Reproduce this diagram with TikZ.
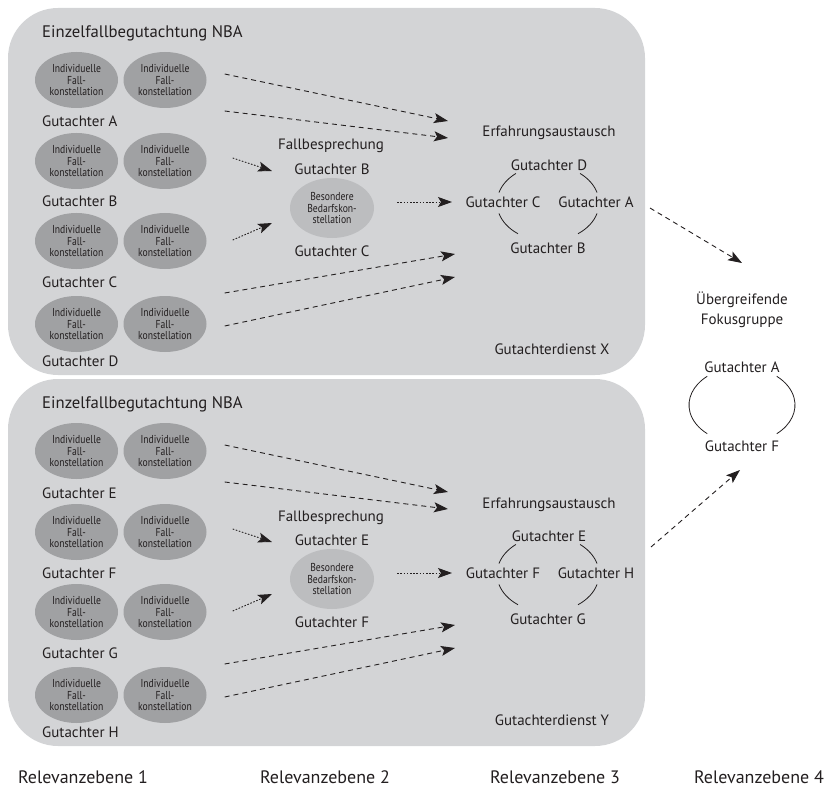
\documentclass[tikz,border=0pt]{standalone}
\usepackage{fontspec}
\setmainfont{PT Sans}
\newfontfamily\narrowsans[FakeStretch=0.84]{PT Sans}
\usetikzlibrary{arrows.meta,positioning,shapes.geometric}

\definecolor{boxgray}{HTML}{D3D4D6}
\definecolor{fallgray}{HTML}{A0A1A3}
\definecolor{bedarfgray}{HTML}{BCBDBF}
\definecolor{ink}{HTML}{231F20}

\tikzset{
  fall/.style={ellipse,fill=fallgray,minimum width=83pt,minimum height=56pt,inner sep=0pt,
    align=center,font=\narrowsans\fontsize{11.5}{11.8}\selectfont},
  bedarf/.style={fall,fill=bedarfgray,minimum width=84pt,minimum height=60pt},
  lbl/.style={inner sep=0pt,font=\fontsize{15}{20}\selectfont},
  head/.style={inner sep=0pt,font=\fontsize{16.7}{19}\selectfont},
  levellbl/.style={inner sep=0pt,font=\fontsize{18}{20}\selectfont},
  dasharrow/.style={draw=ink,line width=0.9pt,dash pattern=on 5pt off 4pt,
    -{Stealth[length=14pt,width=10pt,inset=3pt]}},
  dotarrow/.style={dasharrow,dash pattern=on 1.6pt off 1.6pt},
  ringarc/.style={draw=ink,line width=0.8pt}
}

\begin{document}
\begin{tikzpicture}[x=1pt,y=1pt,color=ink]
\useasboundingbox (0,0) rectangle (828,-789);
% two Gutachterdienste
\foreach \dy/\k/\pa/\pb/\pc/\pd/\ft/\fb/\rt/\rl/\rr/\rb/\dienst in
  {0/1/A/B/C/D/B/C/D/C/A/B/X, 371/2/E/F/G/H/E/F/E/F/H/G/Y}
{
\fill[boxgray,rounded corners=50pt] (8,-8-\dy) rectangle (645,-375-\dy);
\node[head,anchor=base west] (head\k) at (42,-37.5-\dy) {Einzelfallbegutachtung NBA};
\foreach \r/\y/\ly/\g in {1/80/127/\pa,2/161/207/\pb,3/241/287/\pc,4/324/366/\pd}
{
\node[fall] (indL\k\r) at (76.5,-\y-\dy) {Individuelle\\Fall-\\konstellation};
\node[fall] (indR\k\r) at (165,-\y-\dy) {Individuelle\\Fall-\\konstellation};
\node[lbl,anchor=base west] (gut\k\r) at (42,-\ly-\dy) {Gutachter \g};
}
% Fallbesprechung
\node[lbl,anchor=base] (fallb\k) at (331,-150-\dy) {Fallbesprechung};
\node[lbl,anchor=base] (fbt\k) at (332,-174.5-\dy) {Gutachter \ft};
\node[bedarf] (bed\k) at (332,-208-\dy) {Besondere\\Bedarfskon-\\stellation};
\node[lbl,anchor=base] (fbb\k) at (332,-256.5-\dy) {Gutachter \fb};
% Erfahrungsaustausch
\node[lbl,anchor=base] (erf\k) at (549,-137-\dy) {Erfahrungsaustausch};
\coordinate (ring\k) at (548,-203-\dy);
\node[lbl,anchor=base] (rt\k) at (549,-170.5-\dy) {Gutachter \rt};
\node[lbl,anchor=base] (rl\k) at (503,-207.5-\dy) {Gutachter \rl};
\node[lbl,anchor=base] (rr\k) at (596,-207.5-\dy) {Gutachter \rr};
\node[lbl,anchor=base] (rb\k) at (548,-253.5-\dy) {Gutachter \rb};
\foreach \a/\b in {16/51,129/164,196/234,306/344}
  \draw[ringarc] ([shift={(\a:51 and 38)}]ring\k) arc[start angle=\a,end angle=\b,x radius=51,y radius=38];
\node[lbl,anchor=base] (dienst\k) at (552,-354.5-\dy) {Gutachterdienst \dienst};
% arrows
\draw[dasharrow] ([shift={(18,6)}]indR\k1.east) -- ([shift={(-100,82)}]ring\k);
\draw[dasharrow] ([shift={(18,-31)}]indR\k1.east) -- ([shift={(-100,65)}]ring\k);
\draw[dotarrow] ([shift={(26,3)}]indR\k2.east) -- ([shift={(-60,37)}]bed\k.center);
\draw[dotarrow] ([shift={(26,1)}]indR\k3.east) -- ([shift={(-60,-15)}]bed\k.center);
\draw[dotarrow] ([shift={(23,6)}]bed\k.east) -- ([shift={(-96,1)}]ring\k);
\draw[dasharrow] ([shift={(18,31)}]indR\k4.east) -- ([shift={(-93,-51)}]ring\k);
\draw[dasharrow] ([shift={(18,-2)}]indR\k4.east) -- ([shift={(-93,-74)}]ring\k);
}
% Fokusgruppe
\node[lbl,align=center] (fokus) at (742,-310) {Übergreifende\\Fokusgruppe};
\coordinate (fring) at (742,-405);
\node[lbl,anchor=base] (fa) at (742,-372.5) {Gutachter A};
\node[lbl,anchor=base] (ff) at (742,-451.5) {Gutachter F};
\draw[ringarc] ([shift={(131:53 and 38)}]fring) arc[start angle=131,end angle=229,x radius=53,y radius=38];
\draw[ringarc] ([shift={(-49:53 and 38)}]fring) arc[start angle=-49,end angle=49,x radius=53,y radius=38];
\draw[dasharrow] ([shift={(102,-5)}]ring1) -- ([yshift=47]fokus.center);
\draw[dasharrow] ([shift={(103,27)}]ring2) -- ([shift={(-2,-65)}]fring);
% Relevanzebenen
\foreach \i/\x in {1/83,2/325,3/555,4/759}
  \node[levellbl,anchor=base] (level\i) at (\x,-783) {Relevanzebene \i};
\end{tikzpicture}
\end{document}
